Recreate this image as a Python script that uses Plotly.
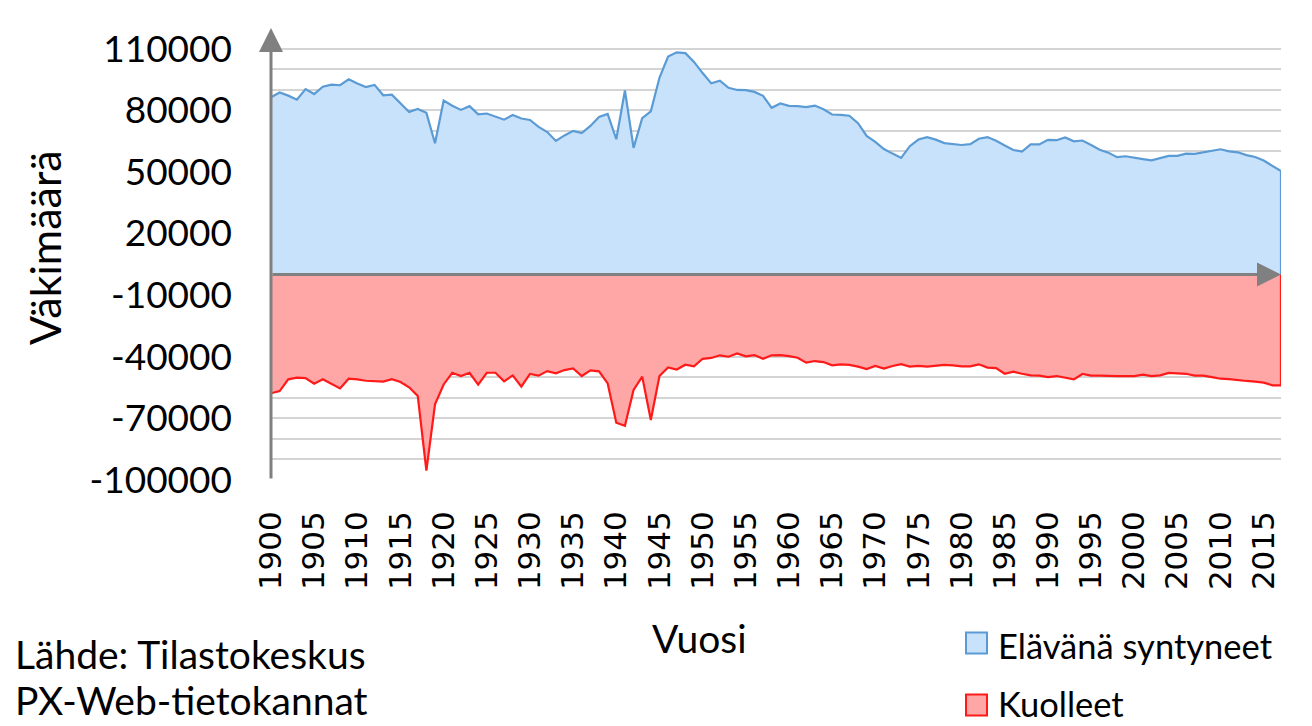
import plotly.graph_objects as go

years = list(range(1900, 2018))

births = [
    86339, 88637, 87082, 85120, 90253, 87841, 91401, 92457, 92146, 95005,
    92984, 91238, 92319, 87250, 87577, 83306, 79161, 80578, 78694, 63896,
    84714, 82165, 80140, 81961, 78003, 78380, 76882, 75382, 77645, 75972,
    75236, 71866, 69352, 65047, 67713, 69942, 68895, 72319, 76695, 78164,
    65849, 89565, 61672, 76112, 79446, 95758, 106075, 108168, 107759, 103515,
    98065, 93063, 94314, 90866, 89845, 89740, 88896, 86985, 81148, 83253,
    82129, 81996, 81454, 82251, 80428, 77885, 77697, 77289, 73654, 67450,
    64559, 61067, 58864, 56787, 62472, 65719, 66846, 65659, 63983, 63428,
    63064, 63469, 66106, 66892, 65076, 62796, 60632, 59827, 63316, 63348,
    65549, 65395, 66731, 64826, 65231, 63067, 60723, 59329, 57108, 57574,
    56742, 56189, 55555, 56630, 57758, 57745, 58840, 58729, 59530, 60430,
    60980, 59961, 59493, 58134, 57232, 55472, 52814, 50321,
]

deaths = [
    57800, 56700, 51000, 50200, 50400, 53100, 51000, 53300, 55400, 50700,
    51000, 51700, 51800, 52100, 50900, 52300, 54900, 59100, 95400, 63200,
    53500, 47800, 49400, 47800, 53600, 47800, 47800, 52000, 49100, 54600,
    48400, 49200, 47000, 48100, 46500, 45700, 49400, 46600, 47100, 53000,
    72100, 73600, 56200, 49700, 70800, 49400, 45200, 46200, 43900, 44700,
    41000, 40600, 39300, 40000, 38400, 39800, 39200, 41000, 39300, 39200,
    39700, 40500, 42900, 42100, 42600, 44200, 43700, 44000, 44800, 46000,
    44500, 45800, 44500, 43600, 44800, 44500, 44800, 44500, 44000, 44200,
    44700, 44700, 43700, 45300, 45500, 48300, 47300, 48300, 49100, 49200,
    49900, 49400, 50100, 51000, 48400, 49200, 49200, 49400, 49400, 49400,
    49400, 48700, 49400, 49100, 47900, 48100, 48300, 49200, 49200, 49900,
    50700, 50900, 51500, 51800, 52100, 52600, 53900, 53900,
]

ytick_vals = [-100000, -70000, -40000, -10000, 20000, 50000, 80000, 110000]
xtick_vals = list(range(1900, 2016, 5))

series_names = ["Elävänä syntyneet", "Kuolleet"]

BLUE_FILL = "#C9E2FB"
BLUE_LINE = "#5B9BD5"
RED_FILL = "#FFA6A6"
RED_LINE = "#FF1A1A"
AXIS_GRAY = "#808080"
FONT = "Lato"

# plot area in pixels
L, R, T, B = 271, 1281, 28, 480

# close the area outline down to zero at the last year
x_area = years + [years[-1]]
y_births = births + [0]
y_deaths = [-d for d in deaths] + [0]

fig = go.Figure()
fig.add_trace(go.Scatter(
    x=x_area, y=y_births, mode="lines", fill="tozeroy",
    fillcolor=BLUE_FILL, line=dict(color=BLUE_LINE, width=2.2),
    name=series_names[0], showlegend=False, hoverinfo="skip",
))
fig.add_trace(go.Scatter(
    x=x_area, y=y_deaths, mode="lines", fill="tozeroy",
    fillcolor=RED_FILL, line=dict(color=RED_LINE, width=2.2),
    name=series_names[1], showlegend=False, hoverinfo="skip",
))

fig.update_layout(
    template="none",
    width=1312, height=726,
    margin=dict(l=L, r=1312 - R, t=T, b=726 - B, autoexpand=False),
    paper_bgcolor="white", plot_bgcolor="white",
    font=dict(family=FONT, color="black"),
    xaxis=dict(
        range=[1900, 2017], tickvals=xtick_vals,
        ticktext=[str(v) for v in xtick_vals],
        tickangle=-90, showgrid=False, zeroline=False, showline=False,
        ticks="", ticklabelstandoff=24, automargin=False,
        tickfont=dict(family="DejaVu Sans", size=31, color="black"),
    ),
    yaxis=dict(
        range=[-100000, 120000], tickvals=ytick_vals,
        ticktext=[str(v) for v in ytick_vals],
        showgrid=True, gridcolor="#D4D4D4", gridwidth=1.6,
        minor=dict(tick0=-100000, dtick=10000, showgrid=True,
                   gridcolor="#D4D4D4", gridwidth=1.6),
        zeroline=False, showline=False, ticks="", automargin=False,
        ticklabelstandoff=38,
        tickfont=dict(family=FONT, size=37, color="black"),
    ),
    showlegend=False,
)

# axis arrows
fig.add_annotation(x=1900, y=120000, ax=1900, ay=-100000,
                   xref="x", yref="y", axref="x", ayref="y", text="",
                   showarrow=True, arrowhead=2, arrowsize=1.6,
                   arrowwidth=3, arrowcolor=AXIS_GRAY)
fig.add_annotation(x=2017, y=0, ax=1900, ay=0,
                   xref="x", yref="y", axref="x", ayref="y", text="",
                   showarrow=True, arrowhead=2, arrowsize=1.6,
                   arrowwidth=3, arrowcolor=AXIS_GRAY)


def px(xp):
    return (xp - L) / (R - L)


def py(yp):
    return (B - yp) / (B - T)


def text_at(x, y, text, size, xanchor="center", angle=0):
    fig.add_annotation(x=px(x), y=py(y), xref="paper", yref="paper",
                       text=text, showarrow=False, textangle=angle,
                       xanchor=xanchor, yanchor="middle",
                       font=dict(family=FONT, size=size, color="black"))


text_at(44, 248, "Väkimäärä", 43, angle=-90)
text_at(699, 638, "Vuosi", 39)
text_at(13, 654, "Lähde: Tilastokeskus", 39, xanchor="left")
text_at(13, 700, "PX-Web-tietokannat", 39, xanchor="left")

# legend (manual)
legend_items = [(series_names[0], BLUE_FILL, BLUE_LINE, 643, 645),
                (series_names[1], RED_FILL, RED_LINE, 705, 703)]
for name, fc, lc, ys, yt in legend_items:
    fig.add_shape(type="rect", xref="paper", yref="paper",
                  x0=px(966), x1=px(987), y0=py(ys - 10.5), y1=py(ys + 10.5),
                  fillcolor=fc, line=dict(color=lc, width=2))
    text_at(996, yt, name, 34.5, xanchor="left")

fig.write_html(
    "out.html",
    config={"displayModeBar": False},
    post_script="document.body.style.margin='0px';document.body.style.overflow='hidden';",
)
